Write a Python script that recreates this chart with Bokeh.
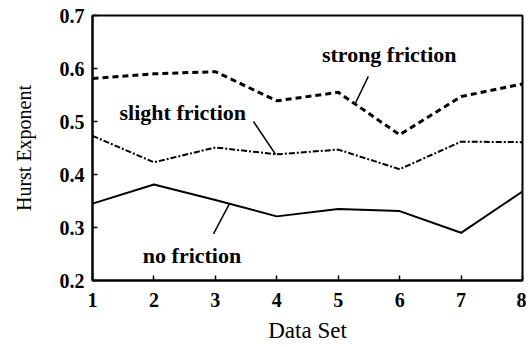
from bokeh.plotting import figure
from bokeh.models import Label, FixedTicker, Range1d, Segment, ColumnDataSource
from bokeh.embed import file_html
from bokeh.resources import INLINE

data_set = [1, 2, 3, 4, 5, 6, 7, 8]
strong_friction = [0.581, 0.590, 0.594, 0.539, 0.555, 0.475, 0.547, 0.571]
slight_friction = [0.473, 0.423, 0.451, 0.438, 0.447, 0.410, 0.462, 0.461]
no_friction = [0.345, 0.381, 0.352, 0.321, 0.335, 0.331, 0.290, 0.368]
y_ticks = [0.2, 0.3, 0.4, 0.5, 0.6, 0.7]
x_ticks = [1, 2, 3, 4, 5, 6, 7, 8]
x_title = "Data Set"
y_title = "Hurst Exponent"

# annotation texts with their anchor and leader-line ends (data coordinates)
notes = ["strong friction", "slight friction", "no friction"]
note_x = [5.83, 2.47, 2.62]
note_y = [0.626, 0.517, 0.248]
lead_x0 = [5.49, 3.62, 2.97]
lead_y0 = [0.585, 0.500, 0.288]
lead_x1 = [5.27, 3.98, 3.23]
lead_y1 = [0.532, 0.438, 0.345]

SERIF = "Liberation Serif"
X0, X1, Y0, Y1 = 1, 8, 0.2, 0.7

p = figure(width=526, height=345, output_backend="svg", toolbar_location=None,
           x_range=Range1d(X0, X1), y_range=Range1d(Y0, Y1),
           min_border_left=92, min_border_right=4, min_border_top=15, min_border_bottom=55)
p.background_fill_color = "white"
p.border_fill_color = "white"
p.outline_line_color = "black"
p.outline_line_width = 2
p.xgrid.visible = False
p.ygrid.visible = False

p.line(data_set, strong_friction, line_color="black", line_width=3, line_dash="6 4")
p.line(data_set, slight_friction, line_color="black", line_width=2, line_dash="6 2 2 2")
p.line(data_set, no_friction, line_color="black", line_width=2)

src = ColumnDataSource(dict(x0=lead_x0, y0=lead_y0, x1=lead_x1, y1=lead_y1))
p.add_glyph(src, Segment(x0="x0", y0="y0", x1="x1", y1="y1", line_color="black", line_width=1.5))

for t, x, y in zip(notes, note_x, note_y):
    p.add_layout(Label(x=x, y=y, text=t, text_font=SERIF, text_font_style="bold",
                       text_font_size="22px", text_align="center", text_baseline="middle",
                       text_color="black"))

for ax in (p.xaxis[0], p.yaxis[0]):
    ax.axis_line_color = "black"
    ax.axis_line_width = 2
    ax.major_tick_in = 5
    ax.major_tick_out = 0
    ax.major_tick_line_color = "black"
    ax.major_tick_line_width = 1.5
    ax.minor_tick_line_color = None
    ax.major_label_text_font = SERIF
    ax.major_label_text_font_style = "bold"
    ax.major_label_text_font_size = "20px"
    ax.major_label_text_color = "black"
    ax.axis_label_text_font = SERIF
    ax.axis_label_text_font_style = "normal"
    ax.axis_label_text_color = "black"

p.xaxis.ticker = FixedTicker(ticks=x_ticks)
p.yaxis.ticker = FixedTicker(ticks=y_ticks)
p.yaxis.major_label_overrides = {v: f"{v:.1f}" for v in y_ticks}
p.xaxis.major_label_standoff = 12
p.yaxis.major_label_standoff = 8

p.xaxis.axis_label = x_title
p.xaxis.axis_label_text_font_size = "23px"
p.xaxis.axis_label_standoff = 8

p.yaxis.axis_label = y_title
p.yaxis.axis_label_text_font_size = "20px"
p.yaxis.axis_label_standoff = 22

open("out.html", "w").write(file_html(p, INLINE))
